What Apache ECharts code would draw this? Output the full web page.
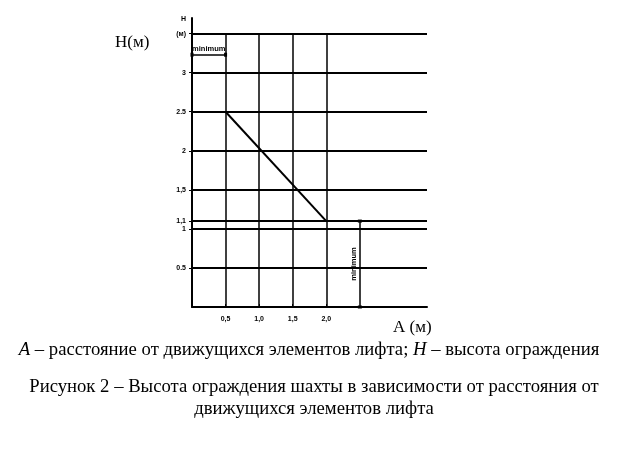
<!DOCTYPE html>
<html><head><meta charset="utf-8">
<script src="https://cdn.jsdelivr.net/npm/echarts@6/dist/echarts.min.js"></script>
<style>html,body{margin:0;padding:0;background:#fff}#c{width:625px;height:449px}</style>
</head><body><div id="c"></div>
<script>
// ---- data ----
const xTickValues = [0.5, 1.0, 1.5, 2.0];
const xTickLabels = ['0,5', '1,0', '1,5', '2,0'];
const yTickValues = [0.5, 1.0, 1.1, 1.5, 2.0, 2.5, 3.0, 3.5, 3.68];
const yTickLabels = ['0.5', '1', '1,1', '1,5', '2', '2.5', '3', '(м)', 'H'];
const hLines = [0.5, 1.0, 1.1, 1.5, 2.0, 2.5, 3.0, 3.5];
const vLines = [0.5, 1.0, 1.5, 2.0];
const gridTop = 3.5;
const curveA = [0.5, 2.0];
const curveH = [2.5, 1.1];
const minA = 2.5, minH = 1.1;          // vertical "minimum" marker
const minTopY = 3.23, minTopA = [0, 0.5]; // horizontal "minimum" marker

const chart = echarts.init(document.getElementById('c'), null, {renderer: 'canvas'});
const black = '#000';
const tickFont = {fontFamily: 'Liberation Sans', fontSize: 7, fontWeight: 'bold', color: black};

const hData = hLines.map(v => [{coord: [0, v]}, {coord: [3.5, v]}]);
const vData = vLines.map(v => [{coord: [v, 0]}, {coord: [v, gridTop]}]);

chart.setOption({
  animation: false,
  backgroundColor: '#fff',
  grid: {left: 192, top: 18, width: 235, height: 289, containLabel: false},
  xAxis: {
    type: 'value', min: 0, max: 3.5,
    axisLine: {show: true, lineStyle: {color: black, width: 2}},
    axisTick: {show: true, customValues: xTickValues, length: 3, inside: true, lineStyle: {color: black}},
    axisLabel: {customValues: xTickValues, formatter: v => xTickLabels[xTickValues.indexOf(v)] || '', margin: 9, ...tickFont},
    splitLine: {show: false}
  },
  yAxis: {
    type: 'value', min: 0, max: 3.7,
    axisLine: {show: true, lineStyle: {color: black, width: 2}},
    axisTick: {show: true, customValues: yTickValues.slice(0, 8), length: 3, lineStyle: {color: black}},
    axisLabel: {customValues: yTickValues, formatter: v => {
      const i = yTickValues.findIndex(t => Math.abs(t - v) < 1e-6); return i >= 0 ? yTickLabels[i] : '';
    }, margin: 6, ...tickFont},
    splitLine: {show: false}
  },
  series: [
    {
      type: 'line', data: [], silent: true,
      markLine: {
        silent: true, symbol: 'none', animation: false,
        lineStyle: {color: black, width: 2, type: 'solid'},
        label: {show: false},
        data: hData.concat(vData.map(d => d.map(p => ({...p, lineStyle: {width: 1.5}}))))
      }
    },
    {
      type: 'line', data: curveA.map((a, i) => [a, curveH[i]]),
      symbol: 'none', lineStyle: {color: black, width: 2}, silent: true
    },
    {
      type: 'line', data: [], silent: true,
      markLine: {
        silent: true, animation: false,
        symbol: ['rect', 'rect'], symbolSize: [4, 3],
        lineStyle: {color: black, width: 1.5, type: 'solid'},
        label: {show: true, position: 'middle', formatter: 'minimum', fontFamily: 'Liberation Sans', fontSize: 7.5, fontWeight: 'bold', color: black, distance: 2},
        data: [
          [{coord: [minA, 0]}, {coord: [minA, minH]}],
          [{coord: [minTopA[0], minTopY]}, {coord: [minTopA[1], minTopY]}]
        ]
      }
    }
  ],
  graphic: [
    {type: 'text', left: 115, top: 34, style: {text: 'H(м)', font: '17px "Liberation Serif"', fill: black}},
    {type: 'text', left: 393, top: 319, style: {text: 'A (м)', font: '17px "Liberation Serif"', fill: black}},
    {type: 'text', x: 309, y: 341, style: {
      text: '{i|A} – расстояние от движущихся элементов лифта; {i|H} – высота ограждения',
      font: '18.7px "Liberation Serif"', fill: black, textAlign: 'center',
      rich: {i: {fontFamily: 'Liberation Serif', fontStyle: 'italic', fontSize: 18.7, fill: black}}
    }},
    {type: 'text', x: 314, y: 376, style: {
      text: 'Рисунок 2 – Высота ограждения шахты в зависимости от расстояния от\nдвижущихся элементов лифта',
      font: '18.7px "Liberation Serif"', fill: black, textAlign: 'center', lineHeight: 22
    }}
  ]
});
</script></body></html>
